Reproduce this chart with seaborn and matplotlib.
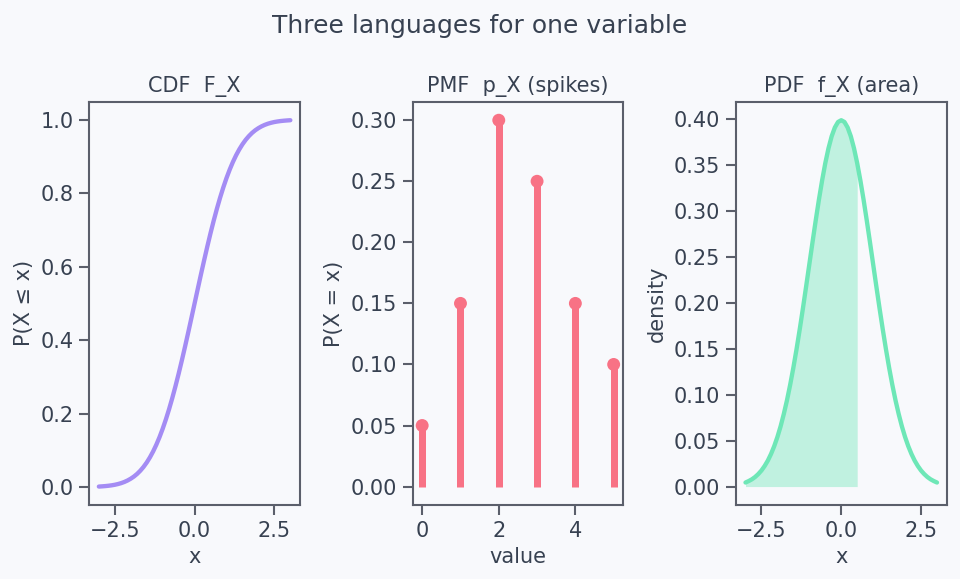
import matplotlib
matplotlib.use("Agg")
import matplotlib.pyplot as plt
import seaborn as sns
import pandas as pd

# valori
x_grid = [-3.0, -2.9, -2.8, -2.7, -2.6, -2.5, -2.4, -2.3, -2.2, -2.1,
          -2.0, -1.9, -1.8, -1.7, -1.6, -1.5, -1.4, -1.3, -1.2, -1.1,
          -1.0, -0.9, -0.8, -0.7, -0.6, -0.5, -0.4, -0.3, -0.2, -0.1,
          0.0, 0.1, 0.2, 0.3, 0.4, 0.5, 0.6, 0.7, 0.8, 0.9,
          1.0, 1.1, 1.2, 1.3, 1.4, 1.5, 1.6, 1.7, 1.8, 1.9,
          2.0, 2.1, 2.2, 2.3, 2.4, 2.5, 2.6, 2.7, 2.8, 2.9, 3.0]
cdf_vals = [0.0013, 0.0019, 0.0026, 0.0035, 0.0047, 0.0062, 0.0082, 0.0107, 0.0139, 0.0179,
            0.0228, 0.0287, 0.0359, 0.0446, 0.0548, 0.0668, 0.0808, 0.0968, 0.1151, 0.1357,
            0.1587, 0.1841, 0.2119, 0.2420, 0.2743, 0.3085, 0.3446, 0.3821, 0.4207, 0.4602,
            0.5000, 0.5398, 0.5793, 0.6179, 0.6554, 0.6915, 0.7257, 0.7580, 0.7881, 0.8159,
            0.8413, 0.8643, 0.8849, 0.9032, 0.9192, 0.9332, 0.9452, 0.9554, 0.9641, 0.9713,
            0.9772, 0.9821, 0.9861, 0.9893, 0.9918, 0.9938, 0.9953, 0.9965, 0.9974, 0.9981, 0.9987]
pdf_vals = [0.0044, 0.0060, 0.0079, 0.0104, 0.0136, 0.0175, 0.0224, 0.0283, 0.0355, 0.0440,
            0.0540, 0.0656, 0.0790, 0.0940, 0.1109, 0.1295, 0.1497, 0.1714, 0.1942, 0.2179,
            0.2420, 0.2661, 0.2897, 0.3123, 0.3332, 0.3521, 0.3683, 0.3814, 0.3910, 0.3970,
            0.3989, 0.3970, 0.3910, 0.3814, 0.3683, 0.3521, 0.3332, 0.3123, 0.2897, 0.2661,
            0.2420, 0.2179, 0.1942, 0.1714, 0.1497, 0.1295, 0.1109, 0.0940, 0.0790, 0.0656,
            0.0540, 0.0440, 0.0355, 0.0283, 0.0224, 0.0175, 0.0136, 0.0104, 0.0079, 0.0060, 0.0044]
pmf_values = [0, 1, 2, 3, 4, 5]
pmf_probs = [0.05, 0.15, 0.30, 0.25, 0.15, 0.10]
shade_upto = 0.5

bg = "#f8f9fc"
testo = "#374151"
bordo = "#5b5f6b"

sns.set_theme(style="ticks", context="notebook")
plt.rcParams.update({
    "figure.facecolor": bg, "axes.facecolor": bg,
    "axes.edgecolor": bordo, "axes.labelcolor": testo,
    "xtick.color": bordo, "ytick.color": bordo,
    "xtick.labelcolor": testo, "ytick.labelcolor": testo,
    "text.color": testo,
    "xtick.labelsize": 12.5, "ytick.labelsize": 12.5,
    "axes.labelsize": 12.5, "axes.titlesize": 12.5,
})

df_cont = pd.DataFrame({"x": x_grid, "cdf": cdf_vals, "pdf": pdf_vals})
df_pmf = pd.DataFrame({"value": pmf_values, "p": pmf_probs})

fig, axes = plt.subplots(1, 3, figsize=(8, 4.825), dpi=120)

# CDF
ax = axes[0]
sns.lineplot(data=df_cont, x="x", y="cdf", ax=ax, color="#a48cf4", linewidth=2.6)
ax.set_title("CDF  F_X")
ax.set_xlabel("x")
ax.set_ylabel("P(X ≤ x)")

# PMF
ax = axes[1]
ax.vlines(df_pmf["value"], 0, df_pmf["p"], color="#f87285", linewidth=4.2)
sns.scatterplot(data=df_pmf, x="value", y="p", ax=ax, color="#f87285", s=60,
                edgecolor="none", zorder=3)
ax.set_title("PMF  p_X (spikes)")
ax.set_xlabel("value")
ax.set_ylabel("P(X = x)")

# PDF
ax = axes[2]
sns.lineplot(data=df_cont, x="x", y="pdf", ax=ax, color="#6ee7b7", linewidth=2.6)
sub = df_cont[df_cont["x"] <= shade_upto + 1e-9]
ax.fill_between(sub["x"], 0, sub["pdf"], color="#6ee7b7", alpha=0.4, linewidth=0)
ax.set_title("PDF  f_X (area)")
ax.set_xlabel("x")
ax.set_ylabel("density")

fig.suptitle("Three languages for one variable", fontsize=15, y=0.975)
fig.subplots_adjust(left=0.093, right=0.986, top=0.824, bottom=0.128, wspace=0.535)
fig.savefig("out.png", dpi=120, facecolor=bg)
